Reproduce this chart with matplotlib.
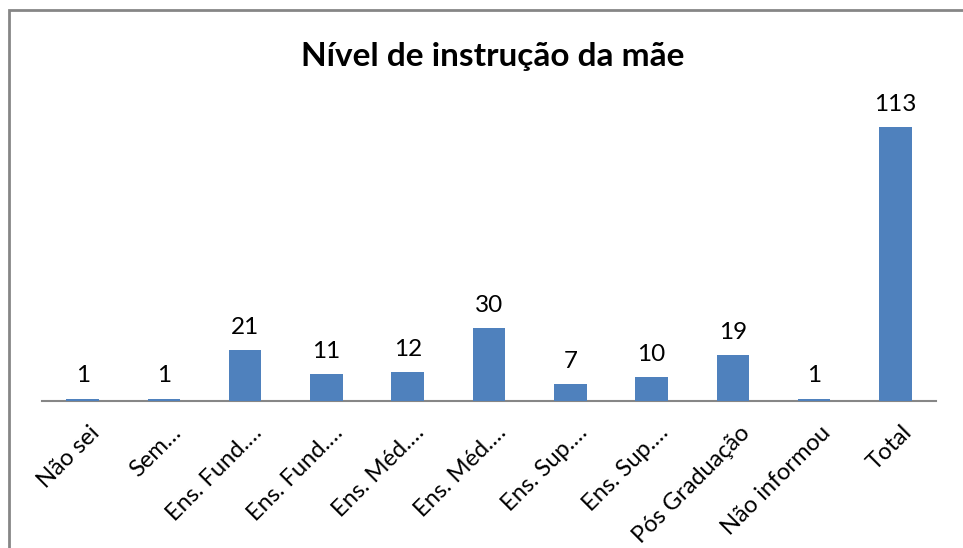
import matplotlib.pyplot as plt
from matplotlib.patches import Rectangle
from matplotlib.transforms import ScaledTranslation

# data
categorias = ["Não sei", "Sem…", "Ens. Fund.…", "Ens. Fund.…", "Ens. Méd.…", "Ens. Méd.…",
              "Ens. Sup.…", "Ens. Sup.…", "Pós Graduação", "Não informou", "Total"]
valores = [1, 1, 21, 11, 12, 30, 7, 10, 19, 1, 113]

plt.rcParams['font.family'] = ['Lato', 'DejaVu Sans']

fig = plt.figure(figsize=(9.63, 5.48), dpi=100)
ax = fig.add_axes([0.0436, 0.2682, 0.9284, 0.5310])

x = range(len(valores))
bars = ax.bar(x, valores, width=0.4, color='#4F81BD', zorder=3)

for xi, v in zip(x, valores):
    ax.text(xi, v + 5, str(v), ha='center', va='bottom', fontsize=17.5)

ax.set_xlim(-0.5, len(valores) - 0.5)
ax.set_ylim(0, 120)
ax.set_xticks(list(x))
ax.set_xticklabels(categorias, rotation=45, ha='right', rotation_mode='anchor', fontsize=17)
ax.tick_params(axis='x', length=0, pad=15)
ax.set_yticks([])
shift = ScaledTranslation(6 / 100, 0, fig.dpi_scale_trans)
for lbl in ax.get_xticklabels():
    lbl.set_transform(lbl.get_transform() + shift)

for s in ['top', 'right', 'left']:
    ax.spines[s].set_visible(False)
ax.spines['bottom'].set_color('#868686')
ax.spines['bottom'].set_linewidth(1.5)

fig.text(0.512, 0.897, "Nível de instrução da mãe", ha='center', va='center',
         fontsize=24, fontweight='bold')

# outer chart border (cut off at right and bottom)
fig.patches.append(Rectangle((9 / 963, -0.05), 1.1, 1 - 10 / 548 + 0.05,
                             transform=fig.transFigure, fill=False,
                             edgecolor='#868686', linewidth=2))

fig.savefig('out.png', dpi=100)
